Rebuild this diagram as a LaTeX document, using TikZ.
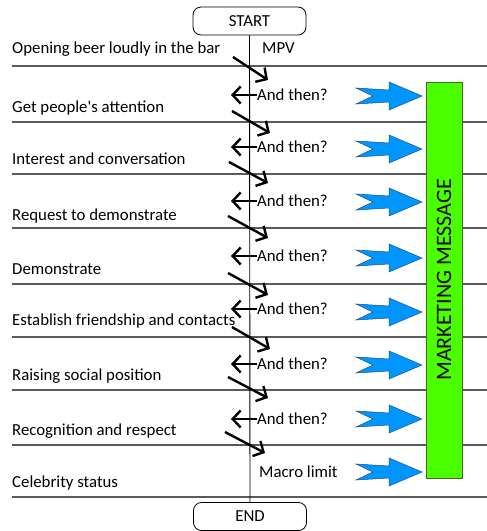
\documentclass[tikz,border=0pt]{standalone}
\usepackage{fontspec}
\setmainfont{Carlito}
\usetikzlibrary{arrows.meta}
\definecolor{arrowblue}{RGB}{0,150,255}
\definecolor{arrowedge}{RGB}{20,80,150}
\definecolor{boxgreen}{RGB}{76,255,0}
\definecolor{boxedge}{RGB}{60,110,40}
\definecolor{rulegray}{RGB}{90,90,90}
\begin{document}
\begin{tikzpicture}[x=1pt,y=-1pt,
  every node/.style={font=\fontsize{16.8}{20}\selectfont},
  termbox/.style={draw,rounded corners=8pt,minimum width=113pt,minimum height=28pt,inner sep=0pt,line width=0.8pt},
  lefttext/.style={anchor=base west,inner sep=0pt},
  asklabel/.style={anchor=west,inner sep=0pt},
  rowrule/.style={draw=rulegray,line width=1.4pt},
  flowarrow/.style={line width=2.4pt,-{Straight Barb[length=8pt,width=17pt,line width=2.4pt]}},
  bluearrow/.style={fill=arrowblue,draw=arrowedge,line width=0.5pt},
  msgbox/.style={draw=boxedge,fill=boxgreen,line width=0.8pt,minimum width=36pt,minimum height=396pt,inner sep=0pt}]
\useasboundingbox (0,0) rectangle (487,531);

% terminals
\node[termbox] (start) at (249.5,21) {START};
\node[termbox] (end) at (250,516.5) {END};

% horizontal rules
\foreach \y in {66,122,174,228,284,337,390,445,497}
  \draw[rowrule] (12,\y) -- (487,\y);

% vertical spine
\draw[line width=0.9pt] (start.south) -- (end.north);

% marketing box
\node[msgbox] (msg) at (444,280) {};
\node[rotate=90,font=\fontsize{22}{26}\selectfont] (msgtext) at (msg.center) {MARKETING MESSAGE};

% left texts
\node[lefttext] (t1) at (12,53) {Opening beer loudly in the bar};
\node[lefttext] (t2) at (12,112) {Get people\textquotesingle s attention};
\node[lefttext] (t3) at (12,164) {Interest and conversation};
\node[lefttext] (t4) at (12,220) {Request to demonstrate};
\node[lefttext] (t5) at (12,274) {Demonstrate};
\node[lefttext] (t6) at (12,325) {Establish friendship and contacts};
\node[lefttext] (t7) at (12,380) {Raising social position};
\node[lefttext] (t8) at (12,435) {Recognition and respect};
\node[lefttext] (t9) at (12,487) {Celebrity status};
\node[lefttext] (mpv) at (262,53) {MPV};

% "And then?" labels with left arrows
\foreach \i/\y in {1/95,2/147,3/201,4/256,5/309,6/364,7/419}{
  \node[asklabel] (ask\i) at (257,\y) {And then?};
  \coordinate (askend\i) at (231,\y);
  \draw[flowarrow] (ask\i.west) -- (askend\i);
}
\node[asklabel] (macro) at (259,472) {Macro limit};

% diagonal arrows
\foreach \i/\ax/\ay/\bx/\by in {1/233/57/268/80,2/232/111/270/133,3/229/162/268/183,4/228/216/268/238,5/228/273/268/295,6/232/327/270/349,7/228/377/268/398,8/225/432/265/453}{
  \coordinate (ds\i) at (\ax,\ay);
  \coordinate (de\i) at (\bx,\by);
  \draw[flowarrow] (ds\i) -- (de\i);
}

% blue arrows
\foreach \y in {96,149,202,258,312,365,419,472}{
  \draw[bluearrow] (356,\y-8) -- (373,\y) -- (356,\y+8) -- (389,\y+6) -- (389,\y+14)
    -- (422,\y) -- (389,\y-14) -- (389,\y-6) -- cycle;
}
\end{tikzpicture}
\end{document}
